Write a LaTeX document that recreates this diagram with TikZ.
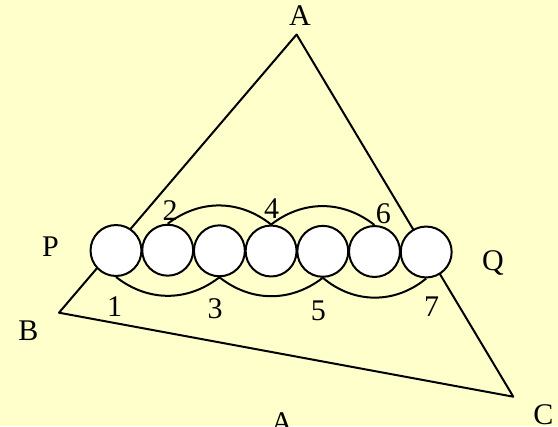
\documentclass[tikz,border=0pt]{standalone}
\usepackage{fontspec}
\setmainfont{Liberation Serif}
\usetikzlibrary{backgrounds}
\definecolor{bgyellow}{HTML}{FFFFCC}
\begin{document}
\begin{tikzpicture}[x=0.75pt,y=-0.75pt,
  line width=1.5pt, line join=round,
  ball/.style={circle,draw=black,fill=white,line width=1.5pt,minimum size=38.2pt,inner sep=0pt},
  lbl/.style={font=\fontsize{22.5}{24}\selectfont,inner sep=0pt,anchor=base},
  arc/.style={line width=1.5pt}]
\useasboundingbox (0,0) rectangle (558,426);
% triangle vertices
\coordinate (A) at (296.6,34.5);
\coordinate (B) at (59,312.7);
\coordinate (C) at (513.3,396.7);
\draw (A) -- (B) -- (C) -- cycle;
% balls
\node[ball] (c1) at (116,250.5) {};
\node[ball] (c2) at (167.7,250.2) {};
\node[ball] (c3) at (219.4,250.8) {};
\node[ball] (c4) at (271.1,251.0) {};
\node[ball] (c5) at (322.8,251.3) {};
\node[ball] (c6) at (374.5,251.5) {};
\node[ball] (c7) at (426.2,252.0) {};
% background and connecting arcs (behind balls)
\begin{scope}[on background layer]
\fill[bgyellow] (0,0) rectangle (558,426);
\draw[arc] (c2.north) to[bend left=38] (c4.north);
\draw[arc] (c4.north) to[bend left=38] (c6.north);
\draw[arc] (c1.south) to[bend right=38] (c3.south);
\draw[arc] (c3.south) to[bend right=38] (c5.south);
\draw[arc] (c5.south) to[bend right=40] (c7.south);
\end{scope}
% labels
\node[lbl] (lA) at (300,25) {A};
\node[lbl] (lB) at (28.3,340.7) {B};
\node[lbl] (lC) at (543.3,424.5) {C};
\node[lbl] (lP) at (50.5,256.7) {P};
\node[lbl] (lQ) at (493,270) {Q};
\node[lbl] (lA2) at (282,432) {A};
\node[lbl] (n1) at (114.5,316.7) {1};
\node[lbl] (n2) at (170,220) {2};
\node[lbl] (n3) at (215,318) {3};
\node[lbl] (n4) at (271.5,218.3) {4};
\node[lbl] (n5) at (318.3,320) {5};
\node[lbl] (n6) at (383.3,223.3) {6};
\node[lbl] (n7) at (431.7,316.7) {7};
\end{tikzpicture}
\end{document}
